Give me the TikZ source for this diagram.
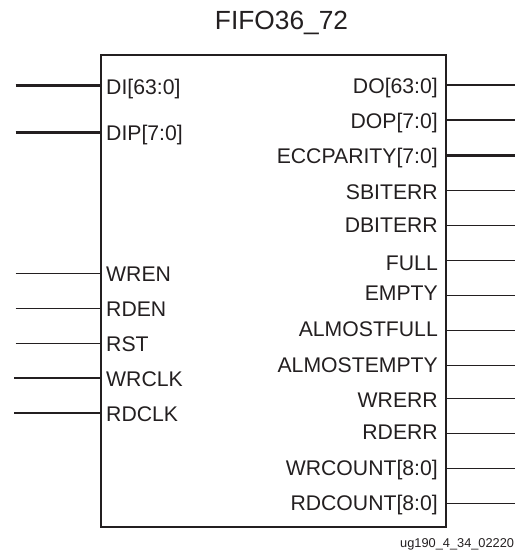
\documentclass[tikz,border=0pt]{standalone}
\usepackage{fontspec}
\setmainfont{Liberation Sans}
\tikzset{
  fifobox/.style={draw=inkc,line width=2pt,minimum width=345pt,minimum height=472.5pt,inner sep=0pt},
  pinname/.style={font=\fontsize{21.2}{21.2}\selectfont,text=inkc,inner sep=0pt},
  bus/.style={draw=inkc,line width=2.3pt},
  sig/.style={draw=inkc,line width=1.1pt}}
\definecolor{inkc}{HTML}{231F20}
\newcommand{\fleft}[6][15.5]{%
  \coordinate (#2end) at (#1,#3);
  \node[pinname,anchor=base west] (#2) at (106,#4) {#5};
  \draw[#6] (#2end) -- (#2end -| fifo.west);}
\newcommand{\fright}[5]{%
  \coordinate (#1end) at (515,#2);
  \node[pinname,anchor=base east] (#1) at (438,#3) {#4};
  \draw[#5] (fifo.east |- #1end) -- (#1end);}

\begin{document}
\begin{tikzpicture}[x=1pt,y=-1pt]
  \useasboundingbox (0,0) rectangle (515,552);
  \node[fifobox] (fifo) at (273,291) {};
  \node[pinname,font=\fontsize{26.3}{26.3}\selectfont,anchor=base] (title) at (281.5,29.5) {FIFO36\_72};
  % inputs
  \fleft{di}{85.5}{94}{DI[63:0]}{bus}
  \fleft{dip}{132.5}{140}{DIP[7:0]}{bus}
  \fleft{wren}{273.7}{281.7}{WREN}{sig}
  \fleft{rden}{308.7}{316.7}{RDEN}{sig}
  \fleft{rst}{343.3}{351.7}{RST}{sig}
  \fleft[14]{wrclk}{378}{386.7}{WRCLK}{sig}
  \fleft[14]{rdclk}{413}{421.7}{RDCLK}{sig}
  % outputs
  \fright{do}{85}{93.3}{DO[63:0]}{bus}
  \fright{dop}{120.3}{128.3}{DOP[7:0]}{bus}
  \fright{ecc}{155.5}{163.3}{ECCPARITY[7:0]}{bus}
  \fright{sbit}{190.7}{199}{SBITERR}{sig}
  \fright{dbit}{225.5}{232.3}{DBITERR}{sig}
  \fright{full}{260.5}{270}{FULL}{sig}
  \fright{empty}{295.5}{300.7}{EMPTY}{sig}
  \fright{afull}{330.5}{336.7}{ALMOSTFULL}{sig}
  \fright{aempty}{365.5}{372.7}{ALMOSTEMPTY}{sig}
  \fright{wrerr}{398.5}{407.7}{WRERR}{sig}
  \fright{rderr}{433.5}{439.3}{RDERR}{sig}
  \fright{wrcnt}{468.5}{475}{WRCOUNT[8:0]}{sig}
  \fright{rdcnt}{503.3}{510.7}{RDCOUNT[8:0]}{sig}
  \node[pinname,font=\fontsize{12.8}{12.8}\selectfont,anchor=base west] (tag) at (400,547.3) {ug190\_4\_34\_02220};
\end{tikzpicture}
\end{document}
